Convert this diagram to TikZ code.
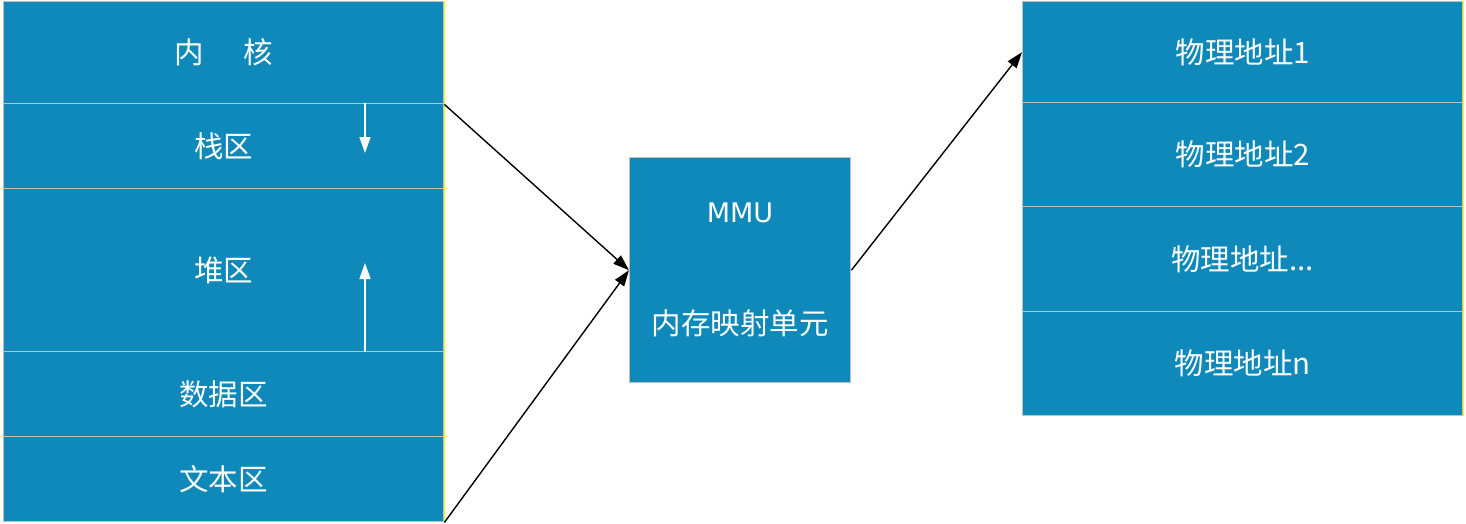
\documentclass[tikz,border=0pt]{standalone}
\usepackage{fontspec}
\setmainfont{Noto Sans CJK SC}
\newfontfamily\mmufont{DejaVu Sans}
\usetikzlibrary{arrows.meta}
\definecolor{boxblue}{HTML}{0E89BA}
\definecolor{edgegray}{HTML}{BFBFBF}
\definecolor{edgeyellow}{HTML}{FFFF00}
\begin{document}
\begin{tikzpicture}[x=1pt,y=-1pt,
  cell/.style={draw=edgegray, line width=1.4pt, fill=boxblue, text=white,
    rectangle, inner sep=0pt, anchor=north west,
    font=\fontsize{29.5}{32}\selectfont},
  lefte/.style={cell, minimum width=440pt},
  righte/.style={cell, minimum width=440pt},
  conn/.style={black, line width=1.4pt, -{Triangle[length=16pt,width=11pt]}},
  growarrow/.style={white, line width=1.4pt, -{Triangle[length=16pt,width=11pt]}},
  lbl/.style={text=white, inner sep=0pt}
]
\useasboundingbox (0,0) rectangle (1466,523);
% left column
\node[lefte, minimum height=102pt] (kernel) at (3,1) {内\hspace{40pt}核};
\node[lefte, minimum height=85pt] (stack) at (3,103) {栈区};
\node[lefte, minimum height=163pt] (heap) at (3,188) {堆区};
\node[lefte, minimum height=85pt] (data) at (3,351) {数据区};
\node[lefte, minimum height=85pt] (textseg) at (3,436) {文本区};
\draw[edgeyellow, line width=1.3pt] (kernel.north east) -- (textseg.south east);
% growth arrows
\coordinate (sdown) at (365,153);
\coordinate (hup) at (365,263);
\draw[growarrow] (stack.north -| sdown) -- (sdown);
\draw[growarrow] (heap.south -| hup) -- (hup);
% MMU
\node[cell, minimum width=221pt, minimum height=225pt] (mmu) at (629,157) {};
\node[lbl, font=\mmufont\fontsize{27}{30}\selectfont] (mmutitle) at (740,213) {MMU};
\node[lbl, font=\fontsize{29.5}{32}\selectfont] (mmusub) at (740,323) {内存映射单元};
% right column
\node[righte, minimum height=101pt] (pa1) at (1022,1) {物理地址1};
\node[righte, minimum height=104pt] (pa2) at (1022,102) {物理地址2};
\node[righte, minimum height=105pt] (pa3) at (1022,206) {物理地址...};
\node[righte, minimum height=104pt] (pan) at (1022,311) {物理地址n};
\draw[edgeyellow, line width=1.0pt] (pa1.north east) -- (pan.south east);
% connectors
\draw[conn] (kernel.south east) -- (mmu.west);
\draw[conn] (textseg.south east) -- (mmu.west);
\draw[conn] (mmu.east) -- (pa1.west);
\end{tikzpicture}
\end{document}
